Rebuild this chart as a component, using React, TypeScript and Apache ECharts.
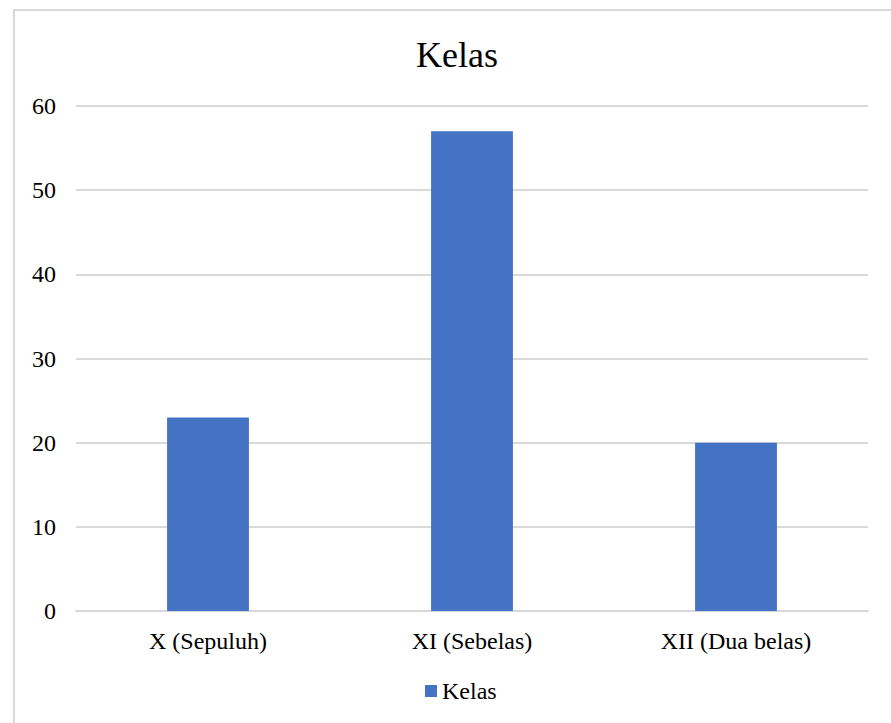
import React, { useEffect, useRef } from "react";
import * as echarts from "echarts";

const categories = ["X (Sepuluh)", "XI (Sebelas)", "XII (Dua belas)"];
const values = [23, 57, 20];
const seriesName = "Kelas";
const titleText = "Kelas";

export default function App() {
  const ref = useRef<HTMLDivElement>(null);
  useEffect(() => {
    if (!ref.current) return;
    const chart = echarts.init(ref.current, null, { renderer: "svg" });
    const font = "Liberation Serif";
    chart.setOption({
      animation: false,
      backgroundColor: "#ffffff",
      textStyle: { fontFamily: font, color: "#000" },
      graphic: [
        {
          type: "rect",
          shape: { x: 14, y: 10, width: 900, height: 740 },
          style: { fill: "none", stroke: "#d9d9d9", lineWidth: 2 },
          silent: true,
          z: -1,
        },
      ],
      title: {
        text: titleText,
        left: 411,
        top: 32,
        textStyle: { fontFamily: font, fontSize: 36, fontWeight: "normal", color: "#000" },
      },
      legend: {
        data: [seriesName],
        top: 674,
        left: 420,
        icon: "rect",
        itemWidth: 12,
        itemHeight: 12,
        textStyle: { fontFamily: font, fontSize: 24, color: "#000" },
      },
      grid: { left: 76, right: 23, top: 106, bottom: 112, containLabel: false },
      xAxis: {
        type: "category",
        data: categories,
        axisTick: { show: false },
        axisLine: { lineStyle: { color: "#d9d9d9", width: 2 } },
        axisLabel: { fontFamily: font, fontSize: 24, color: "#000", margin: 18 },
      },
      yAxis: {
        type: "value",
        min: 0,
        max: 60,
        interval: 10,
        axisLine: { show: false },
        axisTick: { show: false },
        splitLine: { lineStyle: { color: "#d9d9d9", width: 2 } },
        axisLabel: { fontFamily: font, fontSize: 24, color: "#000", margin: 20 },
      },
      series: [
        {
          name: seriesName,
          type: "bar",
          data: values,
          barWidth: "31%",
          itemStyle: { color: "#4472C4" },
        },
      ],
    });
    return () => chart.dispose();
  }, []);
  return (
    <div
      ref={ref}
      style={{ position: "absolute", left: 0, top: 0, width: 891, height: 723 }}
    />
  );
}
